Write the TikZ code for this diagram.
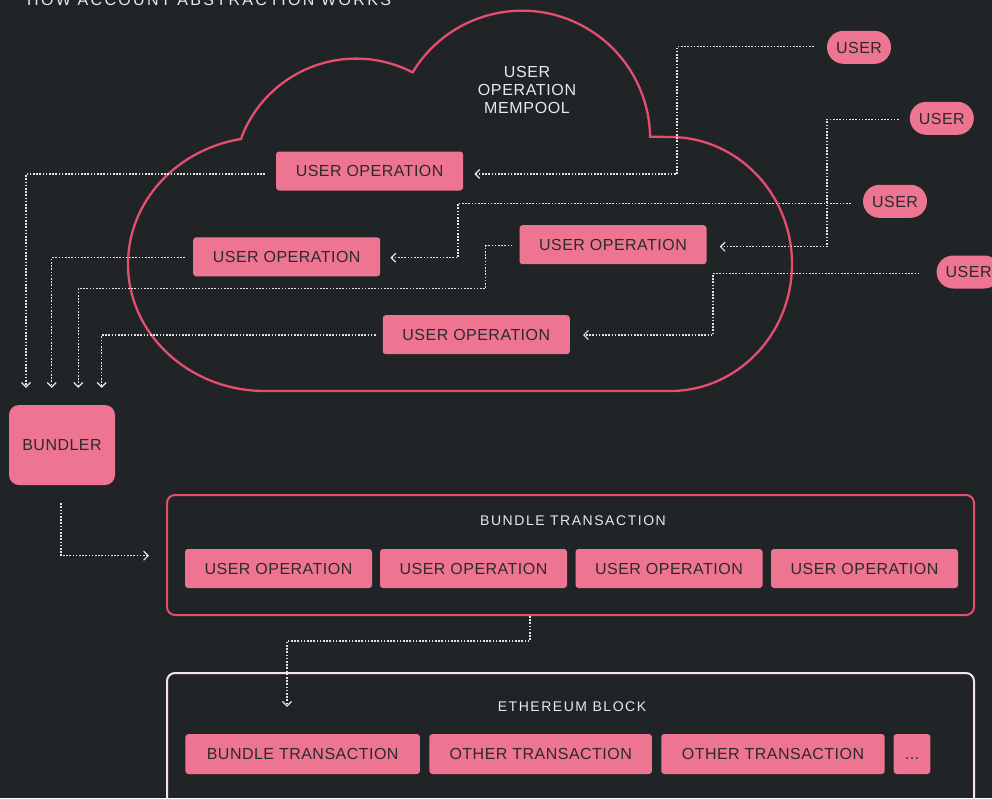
\documentclass[tikz,border=0pt]{standalone}
\usepackage{fontspec}
\setmainfont{Liberation Sans}[LetterSpace=3]
\newfontfamily\labelfont{Liberation Sans}[LetterSpace=11]
\newfontfamily\titlefont{Liberation Sans}[LetterSpace=14.5]
\newfontfamily\memfont{Liberation Sans}[LetterSpace=4]
\usetikzlibrary{arrows.meta}
\definecolor{bgc}{HTML}{212426}
\definecolor{pinkfill}{HTML}{EE7592}
\definecolor{pinkline}{HTML}{E34F6E}
\definecolor{txtdark}{HTML}{2B2A2E}
\definecolor{whitetxt}{HTML}{E9E9EA}
\definecolor{ethline}{HTML}{F4E4EA}
\definecolor{flowc}{HTML}{E6E6E6}
\tikzset{
  boxbase/.style={fill=pinkfill, text=txtdark, inner sep=0pt,
    font=\fontsize{16}{18}\selectfont, text height=11.5pt, text depth=0pt},
  opbox/.style={boxbase, rounded corners=3pt, minimum width=187pt, minimum height=39pt},
  userbox/.style={boxbase, rounded corners=16.5pt, minimum width=64pt, minimum height=33pt},
  frame/.style={rounded corners=8pt, line width=2pt, inner sep=0pt},
  smalllabel/.style={text=whitetxt, font=\labelfont\fontsize{14}{16}\selectfont, inner sep=0pt},
  flow/.style={draw=flowc, line width=1.2pt, dash pattern=on 1.6pt off 1.6pt,
    -{Straight Barb[length=4.5pt,width=9pt,line width=1.2pt]}},
  cloudline/.style={draw=pinkline, line width=2.3pt}
}
\begin{document}
\begin{tikzpicture}[x=1pt,y=-1pt]
\useasboundingbox (0,0) rectangle (992,798);
\clip (0,0) rectangle (992,798);
\fill[bgc] (0,0) rectangle (992,798);

% title (cut off at top, as in the reference)
\node[anchor=base west, inner sep=0pt, text=whitetxt, font=\titlefont\fontsize{16}{18}\selectfont] (title) at (27,5) {HOW ACCOUNT ABSTRACTION WORKS};

% cloud
\draw[cloudline] (242,136) arc[start angle=201.7, end angle=297.4, radius=122.8]
  arc[start angle=211.2, end angle=359.1, radius=128] -- (670,137)
  arc[start angle=270, end angle=450, x radius=122, y radius=127] -- (265,391)
  arc[start angle=90, end angle=260, x radius=137, y radius=127] -- cycle;

\node[align=center, text=whitetxt, font=\memfont\fontsize{16}{18}\selectfont, inner sep=0pt] (mempool) at (527,90) {USER\\OPERATION\\MEMPOOL};

% user operations in the mempool
\node[opbox] (op1) at (369.6,171) {USER OPERATION};
\node[opbox] (op2) at (286.7,256.8) {USER OPERATION};
\node[opbox] (op3) at (613,244.7) {USER OPERATION};
\node[opbox] (op4) at (476.3,334.7) {USER OPERATION};

% users
\node[userbox] (u1) at (859,47.3) {USER};
\node[userbox] (u2) at (941.8,118.3) {USER};
\node[userbox] (u3) at (895,201.3) {USER};
\node[userbox] (u4) at (968.6,272) {USER};

% bundler
\node[boxbase, rounded corners=10pt, minimum width=106pt, minimum height=80pt] (bundler) at (62,445) {BUNDLER};

% bundle transaction frame
\node[frame, draw=pinkline, minimum width=807pt, minimum height=120pt] (bundle) at (570.5,555) {};
\node[smalllabel] (bundlelabel) at (573,521) {BUNDLE TRANSACTION};
\node[opbox] (b1) at (278.5,568.5) {USER OPERATION};
\node[opbox] (b2) at (473.5,568.5) {USER OPERATION};
\node[opbox] (b3) at (669,568.5) {USER OPERATION};
\node[opbox] (b4) at (864.5,568.5) {USER OPERATION};

% ethereum block frame
\node[frame, draw=ethline, minimum width=807pt, minimum height=174pt] (eth) at (570.5,760) {};
\node[smalllabel] (ethlabel) at (572,707) {ETHEREUM BLOCK};
\node[opbox, minimum width=234.5pt, minimum height=40pt] (btx) at (302.7,754) {BUNDLE TRANSACTION};
\node[opbox, minimum width=222.5pt, minimum height=40pt] (ot1) at (540.7,754) {OTHER TRANSACTION};
\node[opbox, minimum width=223.4pt, minimum height=40pt] (ot2) at (773,754) {OTHER TRANSACTION};
\node[opbox, minimum width=36.6pt, minimum height=40pt] (dots) at (912,754) {...};

% users -> user operations
\draw[flow] ([xshift=-13pt,yshift=0.6pt]u1.west) -| (677,174) -- ([xshift=11pt,yshift=-3pt]op1.east);
\draw[flow] ([xshift=-11pt,yshift=-1pt]u2.west) -| (827,246.7) -- ([xshift=13pt,yshift=-2pt]op3.east);
\draw[flow] ([xshift=-12pt,yshift=-2pt]u3.west) -| (458,257.7) -- ([xshift=10pt,yshift=-0.9pt]op2.east);
\draw[flow] ([xshift=-17pt,yshift=-1.3pt]u4.west) -| (713,335) -- ([xshift=13pt,yshift=-0.3pt]op4.east);

% user operations -> bundler
\draw[flow] ([xshift=-11pt,yshift=-3pt]op1.west) -| ([xshift=-36pt,yshift=17pt]bundler.north);
\draw[flow] ([xshift=-8pt,yshift=-0.9pt]op2.west) -| ([xshift=-10.3pt,yshift=17pt]bundler.north);
\draw[flow] ([xshift=-7pt,yshift=-1pt]op3.west) -| (485.5,288.5) -| ([xshift=16.3pt,yshift=17pt]bundler.north);
\draw[flow] ([xshift=-7pt,yshift=-0.3pt]op4.west) -| ([xshift=39.7pt,yshift=17pt]bundler.north);

% bundler -> bundle transaction
\draw[flow] ([xshift=-1pt,yshift=-18pt]bundler.south) |- ([xshift=-17pt,yshift=-0.7pt]bundle.west);

% bundle transaction -> ethereum block
\draw[flow] ([xshift=-40.5pt]bundle.south) -- (530,641) -| ([xshift=-15.7pt,yshift=27pt]btx.north);
\end{tikzpicture}
\end{document}
